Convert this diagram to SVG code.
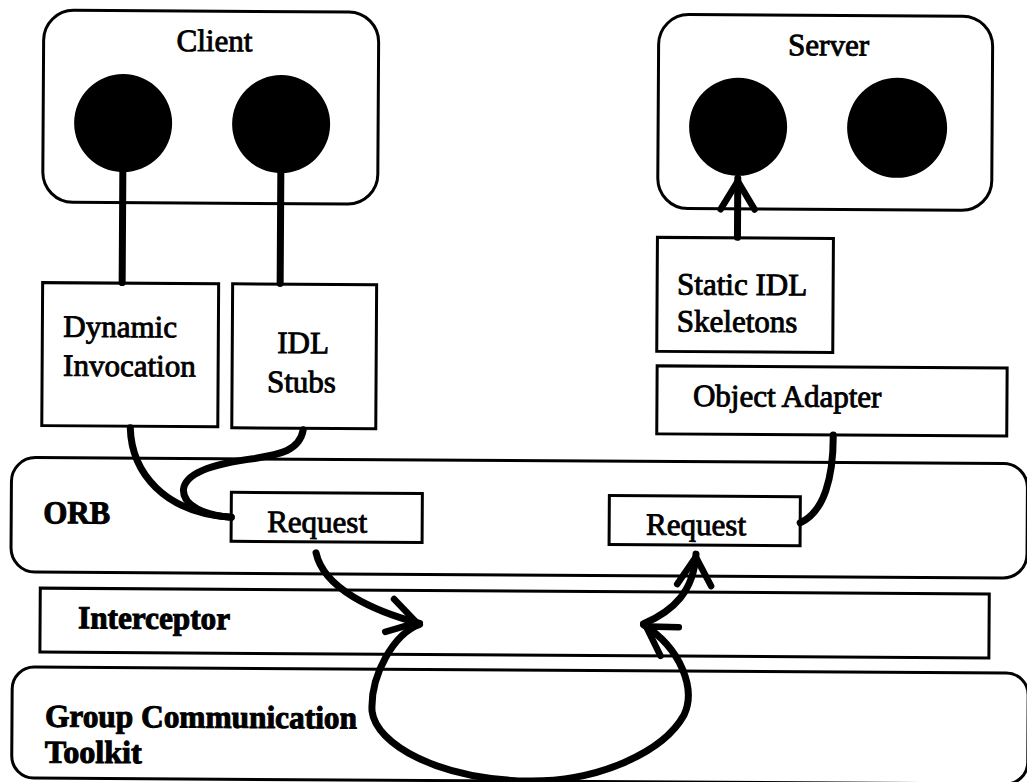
<svg xmlns="http://www.w3.org/2000/svg" width="1027" height="782" viewBox="0 0 1027 782">
  <style>
    .frame { fill: none; stroke: #000; stroke-width: 3; }
    .box { fill: #fff; stroke: #000; stroke-width: 3; }
    .obj { fill: #000; }
    .lbl { font-family: "Liberation Serif", "Times New Roman", serif; font-size: 31px; fill: #000; stroke: #000; stroke-width: 0.9px; }
    .hdr { font-family: "Liberation Serif", "Times New Roman", serif; font-size: 32px; font-weight: bold; fill: #000; stroke: #000; stroke-width: 1px; }
    .wire { fill: none; stroke: #000; stroke-width: 7; stroke-linecap: round; }
    .flow { fill: none; stroke: #000; stroke-width: 7; stroke-linecap: round; marker-end: url(#chev); }
  </style>
  <defs>
    <!-- open chevron arrowhead, drawn in user space so every arrow gets the same size -->
    <marker id="chev" markerUnits="userSpaceOnUse" markerWidth="40" markerHeight="40" refX="0" refY="0" orient="auto" overflow="visible">
      <path d="M-31,-17 L-3,0 L-31,17" fill="none" stroke="#000" stroke-width="6.5" stroke-linejoin="miter" stroke-linecap="round"/>
    </marker>
  </defs>

  <rect x="0" y="0" width="1027" height="782" fill="#fff"/>

  <g transform="rotate(0.35 513 391)">
    <!-- client process with two objects -->
    <g id="client">
      <rect class="frame" x="41.5" y="13" width="335" height="192" rx="30"/>
      <text class="lbl" x="174.5" y="53">Client</text>
      <circle class="obj" cx="121.5" cy="125.5" r="49"/>
      <circle class="obj" cx="279.5" cy="125.5" r="49"/>
    </g>

    <!-- server process with two objects -->
    <g id="server">
      <rect class="frame" x="656.5" y="13.5" width="334" height="194" rx="30"/>
      <text class="lbl" x="786" y="53.5">Server</text>
      <circle class="obj" cx="736.5" cy="125.5" r="49"/>
      <circle class="obj" cx="895.5" cy="125.5" r="50"/>
    </g>

    <g id="dynamic-invocation">
      <rect class="box" x="42" y="285.5" width="176" height="143"/>
      <text class="lbl" x="63" y="339.5">Dynamic</text>
      <text class="lbl" x="63" y="378.5">Invocation</text>
    </g>

    <g id="idl-stubs">
      <rect class="box" x="232" y="285.5" width="144" height="144"/>
      <text class="lbl" x="277" y="354.5">IDL</text>
      <text class="lbl" x="267" y="393.5">Stubs</text>
    </g>

    <g id="static-idl-skeletons">
      <rect class="box" x="656.5" y="236.5" width="176" height="114"/>
      <text class="lbl" x="676.5" y="293.5">Static IDL</text>
      <text class="lbl" x="676.5" y="330.5">Skeletons</text>
    </g>

    <g id="object-adapter">
      <rect class="box" x="657" y="365" width="350" height="68"/>
      <text class="lbl" x="693" y="405">Object Adapter</text>
    </g>

    <g id="orb">
      <rect class="frame" x="12" y="460.5" width="1016" height="114.5" rx="24"/>
      <text class="hdr" x="44" y="526" textLength="67" lengthAdjust="spacingAndGlyphs">ORB</text>
    </g>

    <g id="request-client">
      <rect class="box" x="232" y="494" width="191" height="49"/>
      <text class="lbl" x="268" y="533.5">Request</text>
    </g>

    <g id="request-server">
      <rect class="box" x="610" y="495" width="191" height="49"/>
      <text class="lbl" x="647" y="534">Request</text>
    </g>

    <g id="interceptor">
      <rect class="frame" x="41.5" y="591" width="949" height="64"/>
      <text class="hdr" x="79.5" y="631" textLength="152" lengthAdjust="spacingAndGlyphs">Interceptor</text>
    </g>

    <g id="group-communication-toolkit">
      <rect class="frame" x="14" y="670" width="1016" height="111" rx="22"/>
      <text class="hdr" x="47" y="729.5" textLength="312" lengthAdjust="spacingAndGlyphs">Group Communication</text>
      <text class="hdr" x="47" y="765.5" textLength="97" lengthAdjust="spacingAndGlyphs">Toolkit</text>
    </g>

    <g id="connectors">
      <!-- client objects down to their invocation paths -->
      <line class="wire" x1="121.5" y1="170" x2="121.5" y2="285"/>
      <line class="wire" x1="279.5" y1="170" x2="279.5" y2="285"/>
      <!-- invocation paths into the client-side request -->
      <path class="wire" d="M130.5,430 C132,475 165,515 232,519"/>
      <path class="wire" d="M303.5,431 C300,452 280,456 255,460 C210,466 185,476 184,492 C184,508 205,517 232,519"/>
      <!-- object adapter to the server-side request -->
      <path class="wire" d="M833.5,433 C834,475 825,510 801,521"/>
      <!-- skeleton up-call into the server object -->
      <path class="flow" d="M736.5,236 L736.5,177"/>
      <!-- request travelling through interceptor and group communication -->
      <path class="flow" d="M317,554 C325,590 375,612 421,624"/>
      <path class="flow" d="M421,625 C396,634 372,675 374,712 C378,745 440,780 532,781 C600,781 665,752 686,714 C698,688 683,648 645,624"/>
      <path class="flow" d="M645,623 C675,610 695,590 697,553"/>
    </g>
  </g>
</svg>
